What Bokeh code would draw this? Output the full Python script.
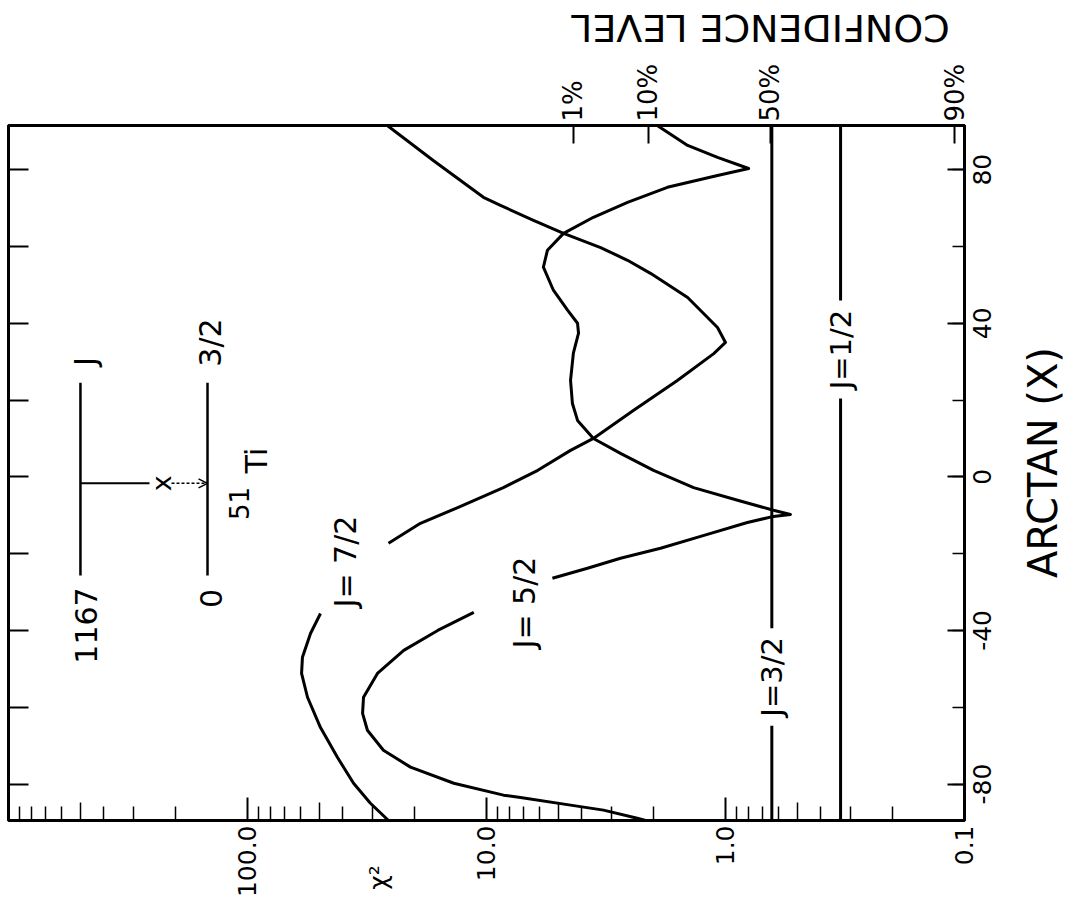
from math import pi
from bokeh.plotting import figure
from bokeh.models import (Range1d, LogAxis, LinearAxis, FixedTicker, SingleIntervalTicker,
                          Label, Arrow, OpenHead)
from bokeh.embed import file_html
from bokeh.resources import INLINE

FONT = "DejaVu Sans"

# ---------------- data ----------------
chi2_ticks = [0.1, 1.0, 10.0, 100.0]
chi2_tick_labels = ["0.1", "1.0", "10.0", "100.0"]
chi2_mid = [0.5, 5.0, 50.0, 500.0]
chi2_minor = [m * 10.0 ** e for e in (-1, 0, 1, 2) for m in (2, 3, 4, 6, 7, 8, 9)]

arctan_ticks = [-80, -40, 0, 40, 80]
arctan_tick_labels = ["-80", "-40", "0", "40", "80"]

conf_chi2 = [4.33, 2.10, 0.65, 0.11]
conf_labels = ["1%", "10%", "50%", "90%"]

# J = 7/2 curve (two pieces, broken by its label)
j72_lo_arctan = [-89.5, -85.0, -79.8, -73.1, -65.3, -57.4, -51.2, -47.0, -40.8, -35.6]
j72_lo_chi2 = [25.7, 30.6, 36.0, 42.0, 49.5, 56.1, 59.4, 58.9, 54.5, 49.5]
j72_hi_arctan = [-17.3, -12.1, -8.0, -2.8, 1.7, 6.9, 10.0, 17.3, 25.1, 32.1, 35.0, 38.9,
                 46.7, 53.0, 56.4, 59.7, 63.4, 66.8, 70.7, 72.8, 82.4, 91.5]
j72_hi_chi2 = [25.7, 18.9, 13.2, 8.5, 6.1, 4.45, 3.57, 2.43, 1.59, 1.12, 1.00, 1.08,
               1.44, 2.06, 2.57, 3.33, 4.76, 6.36, 8.74, 10.3, 16.7, 26.0]

# J = 5/2 curve (two pieces)
j52_lo_arctan = [-89.5, -88.9, -86.8, -85.5, -83.5, -82.9, -79.8, -75.6, -71.2, -66.0,
                 -61.6, -57.4, -51.2, -45.2, -40.0, -35.3]
j52_lo_chi2 = [2.16, 2.34, 3.24, 4.45, 7.21, 8.49, 13.7, 20.8, 27.0, 31.5,
               33.0, 32.7, 28.6, 22.2, 16.0, 11.3]
j52_hi_arctan = [-26.4, -23.8, -21.2, -18.6, -15.3, -11.9, -10.3, -9.8, -8.7, -6.1, -2.8,
                 1.7, 6.1, 10.0, 14.7, 19.1, 25.1, 32.2, 37.4, 40.0, 43.4, 48.6, 54.6,
                 59.0, 63.4, 67.6, 71.5, 75.4, 78.5, 80.3, 83.2, 86.3, 91.5]
j52_hi_chi2 = [5.30, 3.78, 2.75, 1.87, 1.24, 0.81, 0.63, 0.535, 0.63, 0.89, 1.36,
               2.00, 2.75, 3.57, 4.16, 4.37, 4.45, 4.33, 4.12, 4.16, 4.58, 5.25, 5.78,
               5.56, 4.76, 3.57, 2.57, 1.75, 1.08, 0.80, 1.08, 1.44, 1.93]

# J = 3/2 and J = 1/2 : constant chi^2 (label gap in ARCTAN)
j32_chi2 = 0.64
j32_gap = (-64.8, -39.4)
j12_chi2 = 0.33
j12_gap = (20.4, 45.9)

# level scheme of 51Ti (inset)
scheme_chi2 = [500.0, 147.0]
scheme_span = [(-25.7, 24.5), (-25.7, 24.5)]
transition_arctan = -1.7

Y_LO, Y_HI = -89.5, 91.5
X_LO, X_HI = 0.1, 1000.0

# helpers for placing annotations (reference pixel -> data)
def chi2_at(px):
    return 10 ** ((964.0 - px) / 239.0 - 1)

def arctan_at(py):
    return (476.3 - py) / 3.84

# ---------------- figure ----------------
p = figure(width=1068, height=912, output_backend="svg", toolbar_location=None,
           x_axis_type="log", x_axis_location=None, y_axis_location=None,
           x_range=Range1d(X_HI, X_LO), y_range=Range1d(Y_LO, Y_HI),
           min_border_left=8, min_border_right=104, min_border_top=125,
           min_border_bottom=92)
p.grid.visible = False
p.outline_line_color = "black"
p.outline_line_width = 3
p.background_fill_color = "white"
p.border_fill_color = "white"

def style_axis(ax):
    ax.axis_line_width = 3
    ax.axis_line_color = "black"
    ax.major_tick_line_width = 2
    ax.minor_tick_line_width = 1.5
    ax.major_tick_out = 0
    ax.minor_tick_out = 0
    ax.major_label_text_font = FONT
    ax.major_label_text_color = "black"

def label_only(ax):
    ax.axis_line_color = None
    ax.major_tick_in = 0
    ax.major_tick_line_color = None
    ax.minor_tick_line_color = None

def no_labels(ax, ticks):
    ax.major_label_overrides = {t: "" for t in ticks}
    ax.major_label_standoff = 0
    ax.major_label_text_font_size = "1px"

# bottom chi^2 axis: decade and minor ticks
bx = LogAxis(ticker=FixedTicker(ticks=chi2_ticks, minor_ticks=chi2_minor))
style_axis(bx)
no_labels(bx, chi2_ticks)
bx.major_tick_in = 23
bx.minor_tick_in = 14
p.add_layout(bx, "below")

# bottom chi^2 axis: medium ticks at 5 x 10^n
bxm = LogAxis(ticker=FixedTicker(ticks=chi2_mid, minor_ticks=[]))
style_axis(bxm)
no_labels(bxm, chi2_mid)
bxm.axis_line_color = None
bxm.major_tick_in = 18
bxm.major_tick_line_width = 1.5
p.add_layout(bxm, "below")

# bottom chi^2 axis: rotated labels, plus the chi^2 symbol (padded so it sits lower)
chi2_symbol_at = chi2_at(378)
chi2_symbol_text = "χ²" + "\u00a0" * 5
b_ticks = chi2_ticks + [chi2_symbol_at]
b_labels = chi2_tick_labels + [chi2_symbol_text]
bx2 = LogAxis(ticker=FixedTicker(ticks=b_ticks, minor_ticks=[]),
              major_label_overrides={t: l for t, l in zip(b_ticks, b_labels)})
style_axis(bx2)
label_only(bx2)
bx2.major_label_orientation = pi / 2
bx2.major_label_standoff = 5
bx2.major_label_text_font_size = "25px"
p.add_layout(bx2, "below")

# top confidence-level axis
tx = LogAxis(ticker=FixedTicker(ticks=conf_chi2, minor_ticks=[]),
             major_label_overrides={t: l for t, l in zip(conf_chi2, conf_labels)})
style_axis(tx)
tx.major_tick_in = 18
tx.minor_tick_in = 0
tx.major_label_orientation = pi / 2
tx.major_label_standoff = 4
tx.major_label_text_font_size = "26px"
p.add_layout(tx, "above")

# left axis (ticks only)
lx = LinearAxis(ticker=SingleIntervalTicker(interval=20, num_minor_ticks=0))
style_axis(lx)
no_labels(lx, list(range(-80, 81, 20)))
lx.major_tick_in = 20
p.add_layout(lx, "left")

# right ARCTAN axis: ticks
rx = LinearAxis(ticker=SingleIntervalTicker(interval=40, num_minor_ticks=2))
style_axis(rx)
no_labels(rx, list(range(-80, 81, 40)))
rx.major_tick_in = 17
rx.minor_tick_in = 12
p.add_layout(rx, "right")

# right ARCTAN axis: rotated tick labels (text starts at its anchor, so the anchor is
# moved down by half of the label length to centre each label on its tick)
R_FS = 25
PX_PER_UNIT = 695.0 / (Y_HI - Y_LO)
def half_len(s):
    w = sum(0.361 if ch == "-" else 0.636 for ch in s) * R_FS
    return 0.5 * w / PX_PER_UNIT
r_anchor = [t - half_len(s) for t, s in zip(arctan_ticks, arctan_tick_labels)]
rx2 = LinearAxis(ticker=FixedTicker(ticks=r_anchor, minor_ticks=[]),
                 major_label_overrides={a: s for a, s in zip(r_anchor, arctan_tick_labels)})
style_axis(rx2)
label_only(rx2)
rx2.major_label_orientation = pi / 2
rx2.major_label_standoff = 18
rx2.major_label_text_font_size = f"{R_FS}px"
p.add_layout(rx2, "right")

# ---------------- curves ----------------
LW = 3
for xs, ys in ((j72_lo_chi2, j72_lo_arctan), (j72_hi_chi2, j72_hi_arctan),
               (j52_lo_chi2, j52_lo_arctan), (j52_hi_chi2, j52_hi_arctan)):
    p.line(xs, ys, line_color="black", line_width=LW, line_join="round")

for c, gap in ((j32_chi2, j32_gap), (j12_chi2, j12_gap)):
    p.line([c, c], [Y_LO, gap[0]], line_color="black", line_width=LW)
    p.line([c, c], [gap[1], Y_HI], line_color="black", line_width=LW)

def rlabel(x, y, text, size, angle=pi / 2, place="center"):
    p.add_layout(Label(x=x, y=y, text=text, angle=angle, text_align="center",
                       text_baseline="middle", text_font=FONT, text_font_size=size,
                       text_color="black"), place)

rlabel(chi2_at(345), arctan_at(561), "J= 7/2", "30px")
rlabel(chi2_at(524), arctan_at(602), "J= 5/2", "30px")
rlabel(j32_chi2, sum(j32_gap) / 2, "J=3/2", "29px")
rlabel(j12_chi2, sum(j12_gap) / 2, "J=1/2", "29px")

# ---------------- level scheme inset ----------------
for c, (a0, a1) in zip(scheme_chi2, scheme_span):
    p.line([c, c], [a0, a1], line_color="black", line_width=2.5)
p.line([scheme_chi2[0], chi2_at(149)], [transition_arctan] * 2, line_color="black", line_width=2)
p.add_layout(Arrow(end=OpenHead(size=9, line_width=1.5, line_color="black"),
                   x_start=chi2_at(171), y_start=transition_arctan,
                   x_end=scheme_chi2[1], y_end=transition_arctan,
                   line_color="black", line_width=1.5, line_dash="3 2"))
rlabel(chi2_at(161), transition_arctan, "x", "27px")
rlabel(chi2_at(85), arctan_at(361), "J", "30px")
rlabel(chi2_at(210), arctan_at(342), "3/2", "30px")
rlabel(chi2_at(85), arctan_at(625), "1167", "30px")
rlabel(chi2_at(210), arctan_at(598), "0", "30px")
rlabel(chi2_at(238), arctan_at(503), "51", "26px")
rlabel(chi2_at(256), arctan_at(460), "Ti", "30px")

# ---------------- texts outside the frame (side panels, so that they are not clipped) --
rlabel(chi2_at(1042), arctan_at(462), "ARCTAN (X)", "40px", place="right")
rlabel(chi2_at(760), arctan_at(27), "CONFIDENCE LEVEL", "38px", angle=pi, place="above")

open("out.html", "w").write(file_html(p, INLINE))
